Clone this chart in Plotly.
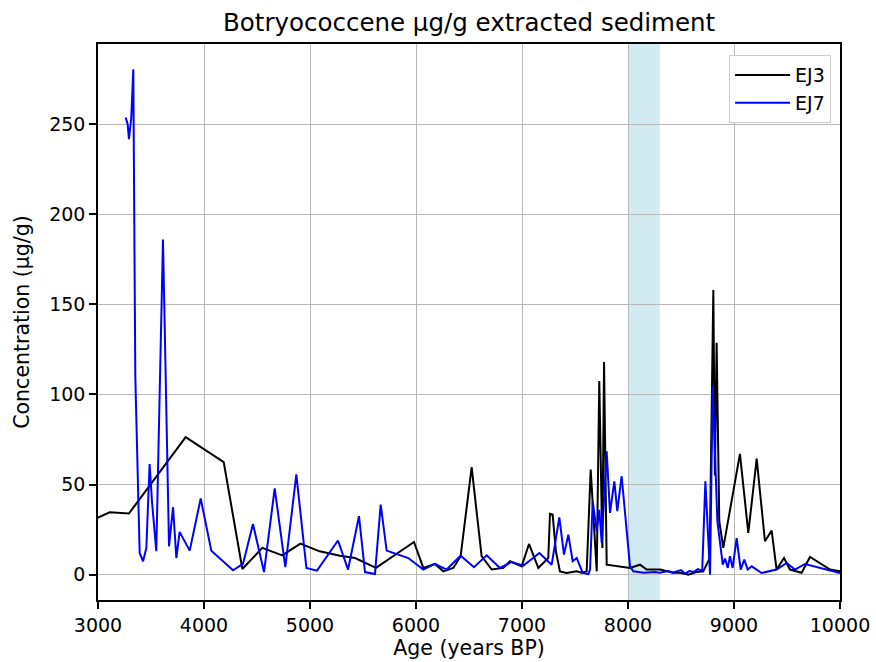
import plotly.graph_objects as go

# EJ3 (black)
ej3_age = [2900, 3000, 3110, 3292, 3827, 4186, 4362, 4550, 4739, 4909, 5091, 5283, 5425, 5623,
           5981, 6069, 6179, 6258, 6352, 6421, 6525, 6619, 6714, 6824, 6887, 6997, 7066, 7154,
           7248, 7264, 7289, 7320, 7358, 7421, 7515, 7563, 7610, 7648, 7705, 7729, 7758, 7774,
           7799, 8019, 8113, 8176, 8302, 8428, 8491, 8569, 8650, 8710, 8770, 8805, 8820, 8836,
           8861, 8899, 9056, 9135, 9214, 9292, 9355, 9402, 9472, 9528, 9638, 9717, 9811, 9906, 10000]
ej3_conc = [29, 31.8, 34.6, 33.9, 76.3, 62.4, 3.1, 14.8, 10.7, 17.2, 12.9, 10.5, 9.2, 3.7,
            18.1, 3.7, 5.9, 1.8, 3.7, 10.2, 59.6, 10.2, 2.8, 3.7, 7.4, 4.6, 17.0, 3.7,
            9.2, 33.7, 33.3, 12.9, 1.8, 0.9, 1.8, 1.0, 1.8, 58.3, 1.8, 107.4, 14.8, 118.0,
            5.5, 3.7, 5.5, 2.8, 2.8, 1.0, 1.0, 0.0, 1.5, 1.8, 9.0, 158.0, 55.0, 128.7,
            29.6, 14.8, 67.0, 23.1, 64.4, 18.5, 24.4, 2.8, 9.2, 2.8, 1.0, 9.8, 6.5, 2.8, 1.8]

# EJ7 (blue)
ej7_age = [3261, 3280, 3292, 3314, 3333, 3352, 3393, 3425, 3456, 3487, 3510, 3550, 3613, 3670,
           3708, 3739, 3770, 3865, 3969, 4069, 4274, 4368, 4462, 4566, 4667, 4767, 4871, 4966,
           5066, 5264, 5359, 5462, 5519, 5613, 5667, 5723, 5927, 6069, 6179, 6289, 6421, 6547,
           6667, 6792, 6903, 7013, 7164, 7280, 7352, 7396, 7437, 7478, 7516, 7573, 7626, 7642,
           7667, 7705, 7729, 7752, 7799, 7830, 7871, 7899, 7940, 8019, 8050, 8150, 8250, 8300,
           8380, 8420, 8500, 8540, 8580, 8620, 8660, 8700, 8730, 8774, 8799, 8843, 8894, 8915,
           8941, 8962, 8987, 9025, 9063, 9097, 9129, 9167, 9261, 9402, 9497, 9575, 9670, 9811, 10000]
ej7_conc = [253.7, 250.0, 241.7, 253.7, 280.5, 110.0, 12.0, 7.4, 14.8, 61.4, 40.0, 13.0, 186.0, 15.7,
            37.4, 9.2, 23.7, 13.3, 42.2, 13.3, 2.4, 5.9, 28.1, 1.4, 47.8, 4.1, 55.6, 3.7,
            2.2, 18.9, 2.8, 32.4, 1.4, 0.3, 38.9, 13.3, 9.2, 2.8, 5.9, 2.8, 10.5, 4.1,
            10.7, 3.7, 7.0, 5.0, 12.0, 5.5, 31.8, 11.1, 22.2, 7.4, 9.2, 0.9, 0.3, 2.8,
            40.7, 24.0, 36.0, 17.6, 68.5, 34.2, 51.8, 35.2, 54.6, 4.6, 1.8, 1.0, 1.5, 1.0,
            2.0, 1.0, 2.5, 0.5, 2.0, 1.5, 3.0, 2.0, 51.8, 0.0, 104.6, 29.6, 5.5, 8.9,
            3.7, 10.2, 3.7, 20.3, 2.8, 8.3, 2.8, 4.6, 0.9, 2.8, 6.5, 2.8, 5.9, 3.7, 0.9]

shade_start, shade_end = 8000, 8300
x_ticks = [3000, 4000, 5000, 6000, 7000, 8000, 9000, 10000]
x_tick_text = ["3000", "4000", "5000", "6000", "7000", "8000", "9000", "10000"]
y_ticks = [0, 50, 100, 150, 200, 250]
y_tick_text = ["0", "50", "100", "150", "200", "250"]

FONT = "DejaVu Sans"

fig = go.Figure()
fig.add_trace(go.Scatter(x=ej3_age, y=ej3_conc, mode="lines", name="EJ3",
                         line=dict(color="black", width=2)))
fig.add_trace(go.Scatter(x=ej7_age, y=ej7_conc, mode="lines", name="EJ7",
                         line=dict(color="blue", width=2)))

fig.add_vrect(x0=shade_start, x1=shade_end, fillcolor="#add8e6", opacity=0.55,
              line_width=0, layer="below")

axis_common = dict(showline=True, linecolor="black", linewidth=1.5, mirror=True,
                   ticks="outside", ticklen=7, tickwidth=1.5, tickcolor="black",
                   showgrid=True, gridcolor="#b8b8b8", gridwidth=1, zeroline=False,
                   automargin=False,
                   tickfont=dict(family=FONT, size=19, color="black"))

fig.update_layout(
    width=876, height=662,
    margin=dict(l=98, r=36, t=44, b=62),
    paper_bgcolor="white", plot_bgcolor="white",
    font=dict(family=FONT, color="black"),
    title=dict(text="Botryococcene µg/g extracted sediment", x=0.5355, xanchor="center",
               y=1 - 22 / 662, yanchor="middle", font=dict(family=FONT, size=24.5, color="black")),
    xaxis=dict(range=[3000, 10000], tickvals=x_ticks, ticktext=x_tick_text,
               title=dict(text="Age (years BP)", font=dict(family=FONT, size=20.5), standoff=4),
               **axis_common),
    yaxis=dict(range=[-14.1, 294.5], tickvals=y_ticks, ticktext=y_tick_text,
               title=dict(text="Concentration (µg/g)", font=dict(family=FONT, size=20.5), standoff=14),
               **axis_common),
    legend=dict(x=0.988, xanchor="right", y=0.98, yanchor="top",
                bgcolor="white", bordercolor="#cccccc", borderwidth=1, itemwidth=55,
                font=dict(family=FONT, size=19, color="black"), tracegroupgap=6),
    showlegend=True,
)

fig.write_html("out.html")
